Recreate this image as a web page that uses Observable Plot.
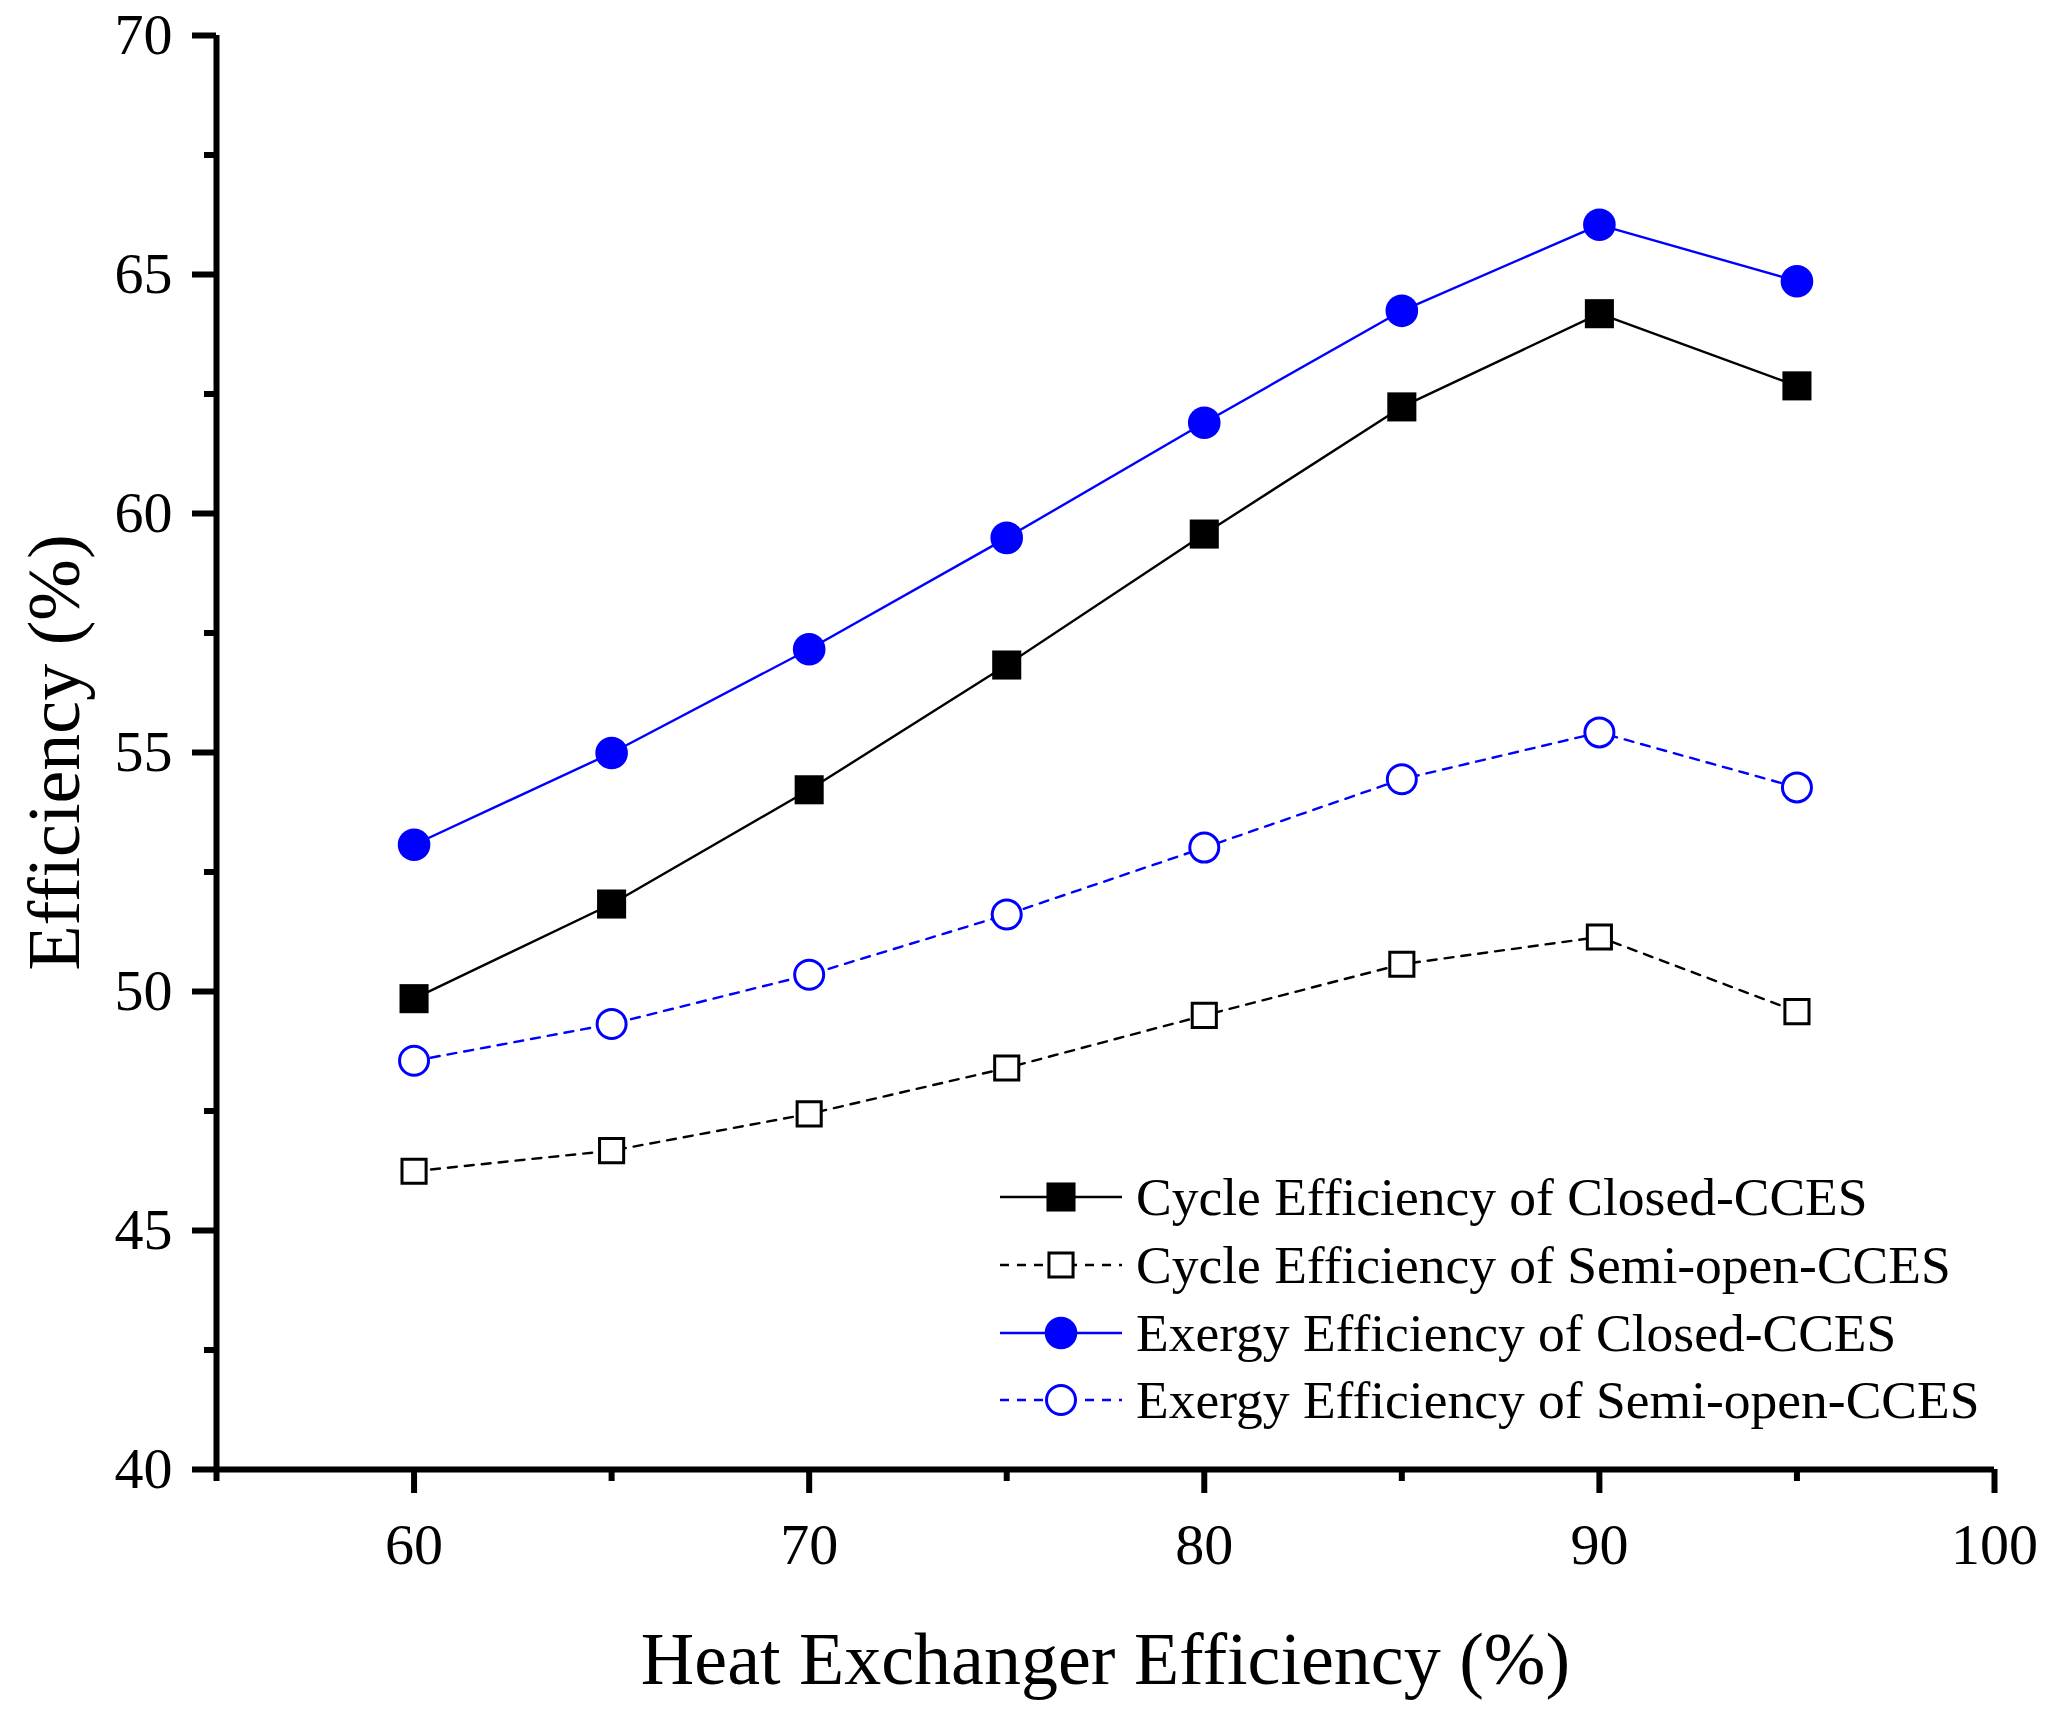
<!DOCTYPE html>
<html>
<head>
<meta charset="utf-8">
<script src="https://cdn.jsdelivr.net/npm/d3@7"></script>
<script src="https://cdn.jsdelivr.net/npm/@observablehq/plot@0.6"></script>
<style>
  html, body { margin: 0; padding: 0; background: #fff; }
  #wrap { position: relative; width: 2057px; height: 1716px; }
  #wrap svg { position: absolute; left: 0; top: 0; }
</style>
</head>
<body>
<div id="wrap"></div>
<script>
// ---- data ----
const heatExchangerEff = [60, 65, 70, 75, 80, 85, 90, 95];
const cycleClosed  = [49.85, 51.83, 54.22, 56.83, 59.57, 62.23, 64.18, 62.67];
const cycleSemi    = [46.24, 46.67, 47.44, 48.40, 49.50, 50.57, 51.14, 49.58];
const exergyClosed = [53.07, 54.99, 57.16, 59.49, 61.90, 64.24, 66.04, 64.86];
const exergySemi   = [48.55, 49.32, 50.35, 51.61, 53.01, 54.44, 55.42, 54.27];

const seriesNames = [
  "Cycle Efficiency of Closed-CCES",
  "Cycle Efficiency of Semi-open-CCES",
  "Exergy Efficiency of Closed-CCES",
  "Exergy Efficiency of Semi-open-CCES"
];

const xMajorTicks = [60, 70, 80, 90, 100];
const xMinorTicks = [55, 65, 75, 85, 95];
const yMajorTicks = [40, 45, 50, 55, 60, 65, 70];
const yMinorTicks = [42.5, 47.5, 52.5, 57.5, 62.5, 67.5];
const xDomain = [55, 100];
const yDomain = [40, 70];

// ---- styles per series ----
const styles = [
  {values: cycleClosed,  color: "#000000", dash: null,  symbol: "square", filled: true},
  {values: cycleSemi,    color: "#000000", dash: "9,8", symbol: "square", filled: false},
  {values: exergyClosed, color: "#0000ff", dash: null,  symbol: "circle", filled: true},
  {values: exergySemi,   color: "#0000ff", dash: "9,8", symbol: "circle", filled: false}
];

const rows = styles.map((s, i) => heatExchangerEff.map((x, j) => ({x, y: s.values[j], series: seriesNames[i]})));

const FONT = "Liberation Serif, Times New Roman, serif";
const W = 2057, H = 1716;

function markerR(s) {
  if (s.symbol === "square") return s.filled ? 16.4 : 13.6;
  return s.filled ? 16.3 : 14.5;
}

const marks = [];
styles.forEach((s, i) => {
  marks.push(Plot.line(rows[i], {x: "x", y: "y", stroke: s.color, strokeWidth: 2.4, strokeDasharray: s.dash}));
});
styles.forEach((s, i) => {
  marks.push(Plot.dot(rows[i], {
    x: "x", y: "y", symbol: s.symbol, r: markerR(s),
    fill: s.filled ? s.color : "white",
    stroke: s.filled ? "none" : s.color,
    strokeWidth: s.filled ? 0 : 3
  }));
});

const plot = Plot.plot({
  width: W,
  height: H,
  marginLeft: 216,
  marginRight: 63,
  marginTop: 35,
  marginBottom: 247,
  style: {fontFamily: FONT, color: "black", background: "white", overflow: "visible"},
  x: {domain: xDomain, label: null},
  y: {domain: yDomain, label: null},
  marks: [
    ...marks,
    Plot.axisX(xMajorTicks, {tickSize: 24, tickPadding: 29, strokeWidth: 6, fontSize: 58, tickFormat: d => String(d), label: null}),
    Plot.axisX(xMinorTicks, {tickSize: 12, strokeWidth: 6, tickFormat: () => "", label: null}),
    Plot.axisY(yMajorTicks, {tickSize: 24, tickPadding: 20, strokeWidth: 6, fontSize: 58, tickFormat: d => String(d), label: null}),
    Plot.axisY(yMinorTicks, {tickSize: 12, strokeWidth: 6, tickFormat: () => "", label: null}),
    Plot.ruleY([yDomain[0]], {strokeWidth: 6}),
    Plot.ruleX([xDomain[0]], {strokeWidth: 6}),
    Plot.text(["Heat Exchanger Efficiency (%)"], {frameAnchor: "bottom", lineAnchor: "bottom", textAnchor: "middle", dy: 214, fontSize: 74, text: d => d}),
    Plot.text(["Efficiency (%)"], {frameAnchor: "left", lineAnchor: "bottom", textAnchor: "middle", rotate: -90, dx: -138, fontSize: 74, text: d => d})
  ]
});

document.getElementById("wrap").appendChild(plot);

// ---- legend overlay ----
const leg = d3.select("#wrap").append("svg")
  .attr("width", W).attr("height", H)
  .style("pointer-events", "none");

const legendRowY = [1197, 1265, 1333, 1400];
const lineX0 = 1000, lineX1 = 1122, markX = 1061, textX = 1136;

styles.forEach((s, i) => {
  const cy = legendRowY[i];
  const g = leg.append("g");
  g.append("line")
    .attr("x1", lineX0).attr("x2", lineX1).attr("y1", cy).attr("y2", cy)
    .attr("stroke", s.color).attr("stroke-width", 2.4)
    .attr("stroke-dasharray", s.dash);
  const r = markerR(s);
  const sym = d3.symbol(s.symbol === "square" ? d3.symbolSquare : d3.symbolCircle, r * r * Math.PI);
  g.append("path")
    .attr("d", sym())
    .attr("transform", `translate(${markX},${cy})`)
    .attr("fill", s.filled ? s.color : "white")
    .attr("stroke", s.filled ? "none" : s.color)
    .attr("stroke-width", s.filled ? 0 : 3);
  g.append("text")
    .attr("x", textX).attr("y", cy + 17.5)
    .attr("font-family", FONT).attr("font-size", 53.5)
    .attr("fill", "black")
    .text(seriesNames[i]);
});
</script>
</body>
</html>
